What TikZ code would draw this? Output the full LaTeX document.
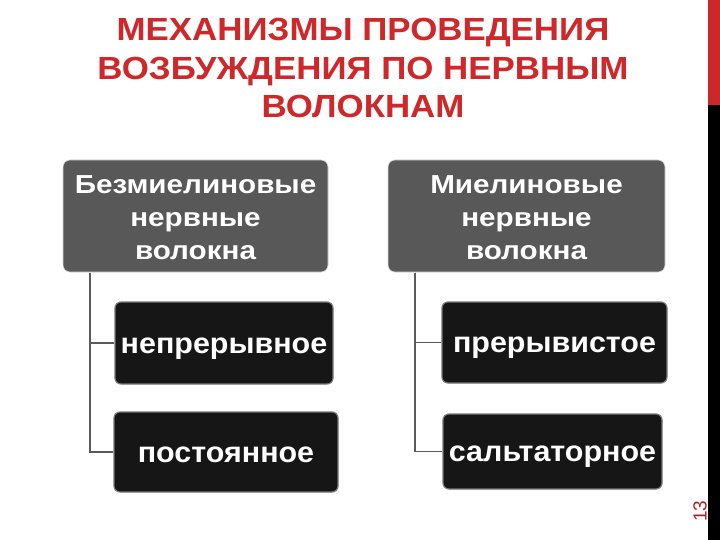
\documentclass[tikz,border=0pt]{standalone}
\usepackage{fontspec}
\setmainfont{Liberation Sans}
\newfontfamily\titlefont{Liberation Sans}[FakeStretch=1.09]
\newfontfamily\headfont{Liberation Sans}[FakeStretch=1.14]
\newfontfamily\subfont{Liberation Sans}[FakeStretch=1.05]
\definecolor{titlered}{RGB}{206,40,42}
\definecolor{headgray}{RGB}{88,88,88}
\definecolor{boxblack}{RGB}{22,22,22}
\definecolor{edgegray}{RGB}{120,120,120}
\definecolor{linegray}{RGB}{90,90,90}
\definecolor{barred}{RGB}{204,40,42}
\definecolor{numred}{RGB}{170,35,40}
\tikzset{
  headbox/.style={rectangle, rounded corners=7pt, fill=headgray, draw=white!85!black, line width=0.6pt,
    text=white, align=center, inner sep=0pt, font=\headfont\bfseries\fontsize{26}{33}\selectfont},
  subbox/.style={rectangle, rounded corners=6pt, fill=boxblack, draw=edgegray, line width=1.2pt,
    text=white, align=center, inner sep=0pt, text height=22pt, text depth=2pt,
    font=\subfont\bfseries\fontsize{29}{33}\selectfont},
  conn/.style={draw=linegray, line width=1.6pt},
  titletext/.style={text=titlered, align=center, font=\titlefont\bfseries\fontsize{32}{38.5}\selectfont}
}
\begin{document}
\begin{tikzpicture}[x=1pt,y=-1pt]
\useasboundingbox (0,0) rectangle (720,540);
\fill[white] (0,0) rectangle (720,540);
% side bars
\fill[barred] (708,0) rectangle (720,105);
\fill[black] (708,105) rectangle (720,540);
\node[rotate=90, text=numred, font=\fontsize{19}{19}\selectfont, inner sep=0pt] (num) at (700,511) {13};
% title
\node[titletext] (title) at (363,68) {МЕХАНИЗМЫ ПРОВЕДЕНИЯ\\ВОЗБУЖДЕНИЯ ПО НЕРВНЫМ\\ВОЛОКНАМ};
% header boxes
\node[headbox, minimum width=265pt, minimum height=112pt] (A) at (195.5,216) {};
\node[headbox, minimum width=277pt, minimum height=112pt] (B) at (526.5,216) {};
\node[headbox, draw=none, fill=none] (At) at (195.5,218) {Безмиелиновые\\нервные\\волокна};
\node[headbox, draw=none, fill=none] (Bt) at (526.5,218) {Миелиновые\\нервные\\волокна};
% sub boxes
\node[subbox, minimum width=218pt, minimum height=82pt] (C) at (224,343) {непрерывное};
\node[subbox, minimum width=224pt, minimum height=80pt] (D) at (226,452) {постоянное};
\node[subbox, minimum width=225pt, minimum height=81pt] (E) at (554.5,342.5) {прерывистое};
\node[subbox, minimum width=219pt, minimum height=75pt] (F) at (552.5,451.5) {сальтаторное};
% connectors
\coordinate (aL) at (90,272.5);
\coordinate (bL) at (415,272.5);
\draw[conn] (aL) |- (C.west);
\draw[conn] (aL) |- (D.west);
\draw[conn] (bL) |- (E.west);
\draw[conn] (bL) |- (F.west);
\end{tikzpicture}
\end{document}
